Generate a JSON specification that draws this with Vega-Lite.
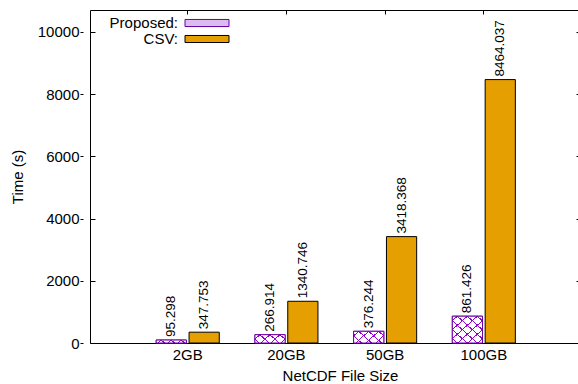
{
  "$schema": "https://vega.github.io/schema/vega-lite/v6.json",
  "width": 500,
  "height": 333,
  "autosize": "none",
  "padding": {"left": 90, "top": 10, "right": 0, "bottom": 41},
  "background": "white",
  "config": {
    "font": "Liberation Sans",
    "view": {"stroke": "#000000", "strokeWidth": 1},
    "axis": {"grid": false, "domain": false, "labelColor": "#000000", "titleColor": "#000000", "tickColor": "#000000", "labelFontSize": 15, "titleFontSize": 15, "titleFontWeight": "normal"}
  },
  "data": {
    "values": [
      {"size": "2GB", "method": "Proposed", "time": 95.298},
      {"size": "2GB", "method": "CSV", "time": 347.753},
      {"size": "20GB", "method": "Proposed", "time": 266.914},
      {"size": "20GB", "method": "CSV", "time": 1340.746},
      {"size": "50GB", "method": "Proposed", "time": 376.244},
      {"size": "50GB", "method": "CSV", "time": 3418.368},
      {"size": "100GB", "method": "Proposed", "time": 861.426},
      {"size": "100GB", "method": "CSV", "time": 8464.037}
    ]
  },
  "encoding": {
    "x": {
      "field": "size", "type": "nominal",
      "sort": ["2GB", "20GB", "50GB", "100GB"],
      "scale": {"paddingInner": 0, "paddingOuter": 0.533, "align": 0.46},
      "axis": null
    },
    "xOffset": {
      "field": "method", "type": "nominal",
      "sort": ["Proposed", "CSV"],
      "scale": {"paddingInner": 0.08, "paddingOuter": 0.543}
    },
    "y": {
      "field": "time", "type": "quantitative",
      "scale": {"domain": [0, 10700], "nice": false},
      "axis": null
    }
  },
  "layer": [
    {
      "mark": {"type": "bar", "strokeWidth": 1},
      "encoding": {
        "x": {
          "field": "size", "type": "nominal",
          "sort": ["2GB", "20GB", "50GB", "100GB"],
          "axis": {"orient": "bottom", "ticks": false, "labelAngle": 0, "labelPadding": 4, "title": "NetCDF File Size", "titlePadding": 6}
        },
        "y": {
          "field": "time", "type": "quantitative",
          "axis": {"orient": "left", "offset": 7, "values": [0, 2000, 4000, 6000, 8000, 10000], "format": "d", "tickSize": 3, "labelPadding": 1, "title": "Time (s)", "titlePadding": 12}
        },
        "fill": {
          "field": "method", "type": "nominal",
          "scale": {"domain": ["Proposed", "CSV"], "range": ["#dcbcef", "#e69f00"]},
          "legend": {
            "orient": "none", "legendX": 109, "legendY": 5,
            "title": null, "padding": 0,
            "symbolType": "M-3,-0.48H3V0.48H-3Z", "symbolSize": 215, "symbolStrokeWidth": 1,
            "labelAlign": "right", "labelOffset": -37, "labelFontSize": 15, "labelColor": "#000000",
            "rowPadding": 0,
            "labelExpr": "datum.label + ':'"
          }
        },
        "stroke": {
          "field": "method", "type": "nominal",
          "scale": {"domain": ["Proposed", "CSV"], "range": ["#6a00a0", "#000000"]},
          "legend": null
        }
      }
    },
    {
      "transform": [{"filter": "datum.method === 'Proposed' && datum.size === '2GB'"}],
      "mark": {"type": "bar", "strokeWidth": 0, "fill": {
        "gradient": "linear", "x1": 0, "y1": 0, "x2": 1.096, "y2": 0.1198,
        "stops": [
          {"offset": 0, "color": "#ffffff"},
          {"offset": 0.130, "color": "#ffffff"}, {"offset": 0.130, "color": "#9400d3"}, {"offset": 0.169, "color": "#9400d3"}, {"offset": 0.169, "color": "#ffffff"},
          {"offset": 0.428, "color": "#ffffff"}, {"offset": 0.428, "color": "#9400d3"}, {"offset": 0.467, "color": "#9400d3"}, {"offset": 0.467, "color": "#ffffff"},
          {"offset": 0.727, "color": "#ffffff"}, {"offset": 0.727, "color": "#9400d3"}, {"offset": 0.766, "color": "#9400d3"}, {"offset": 0.766, "color": "#ffffff"},
          {"offset": 1, "color": "#ffffff"}
        ]
      }}
    },
    {
      "transform": [{"filter": "datum.method === 'Proposed' && datum.size === '20GB'"}],
      "mark": {"type": "bar", "strokeWidth": 0, "fill": {
        "gradient": "linear", "x1": 0, "y1": 0, "x2": 1.194, "y2": 0.365,
        "stops": [
          {"offset": 0, "color": "#ffffff"},
          {"offset": 0.110, "color": "#ffffff"}, {"offset": 0.110, "color": "#9400d3"}, {"offset": 0.143, "color": "#9400d3"}, {"offset": 0.143, "color": "#ffffff"},
          {"offset": 0.364, "color": "#ffffff"}, {"offset": 0.364, "color": "#9400d3"}, {"offset": 0.397, "color": "#9400d3"}, {"offset": 0.397, "color": "#ffffff"},
          {"offset": 0.618, "color": "#ffffff"}, {"offset": 0.618, "color": "#9400d3"}, {"offset": 0.651, "color": "#9400d3"}, {"offset": 0.651, "color": "#ffffff"},
          {"offset": 0.871, "color": "#ffffff"}, {"offset": 0.871, "color": "#9400d3"}, {"offset": 0.904, "color": "#9400d3"}, {"offset": 0.904, "color": "#ffffff"},
          {"offset": 1, "color": "#ffffff"}
        ]
      }}
    },
    {
      "transform": [{"filter": "datum.method === 'Proposed' && datum.size === '50GB'"}],
      "mark": {"type": "bar", "strokeWidth": 0, "fill": {
        "gradient": "linear", "x1": 0, "y1": 0, "x2": 1.207, "y2": 0.520,
        "stops": [
          {"offset": 0, "color": "#ffffff"},
          {"offset": 0.101, "color": "#ffffff"}, {"offset": 0.101, "color": "#9400d3"}, {"offset": 0.131, "color": "#9400d3"}, {"offset": 0.131, "color": "#ffffff"},
          {"offset": 0.332, "color": "#ffffff"}, {"offset": 0.332, "color": "#9400d3"}, {"offset": 0.362, "color": "#9400d3"}, {"offset": 0.362, "color": "#ffffff"},
          {"offset": 0.564, "color": "#ffffff"}, {"offset": 0.564, "color": "#9400d3"}, {"offset": 0.594, "color": "#9400d3"}, {"offset": 0.594, "color": "#ffffff"},
          {"offset": 0.795, "color": "#ffffff"}, {"offset": 0.795, "color": "#9400d3"}, {"offset": 0.825, "color": "#9400d3"}, {"offset": 0.825, "color": "#ffffff"},
          {"offset": 1, "color": "#ffffff"}
        ]
      }}
    },
    {
      "transform": [{"filter": "datum.method === 'Proposed' && datum.size === '100GB'"}],
      "mark": {"type": "bar", "strokeWidth": 0, "fill": {
        "gradient": "linear", "x1": 0, "y1": 0, "x2": 1.007, "y2": 0.993,
        "stops": [
          {"offset": 0, "color": "#ffffff"},
          {"offset": 0.073, "color": "#ffffff"}, {"offset": 0.073, "color": "#9400d3"}, {"offset": 0.094, "color": "#9400d3"}, {"offset": 0.094, "color": "#ffffff"},
          {"offset": 0.239, "color": "#ffffff"}, {"offset": 0.239, "color": "#9400d3"}, {"offset": 0.261, "color": "#9400d3"}, {"offset": 0.261, "color": "#ffffff"},
          {"offset": 0.406, "color": "#ffffff"}, {"offset": 0.406, "color": "#9400d3"}, {"offset": 0.428, "color": "#9400d3"}, {"offset": 0.428, "color": "#ffffff"},
          {"offset": 0.573, "color": "#ffffff"}, {"offset": 0.573, "color": "#9400d3"}, {"offset": 0.594, "color": "#9400d3"}, {"offset": 0.594, "color": "#ffffff"},
          {"offset": 0.739, "color": "#ffffff"}, {"offset": 0.739, "color": "#9400d3"}, {"offset": 0.761, "color": "#9400d3"}, {"offset": 0.761, "color": "#ffffff"},
          {"offset": 0.906, "color": "#ffffff"}, {"offset": 0.906, "color": "#9400d3"}, {"offset": 0.928, "color": "#9400d3"}, {"offset": 0.928, "color": "#ffffff"},
          {"offset": 1, "color": "#ffffff"}
        ]
      }}
    },
    {
      "transform": [{"filter": "datum.method === 'Proposed' && datum.size === '2GB'"}],
      "mark": {"type": "bar", "strokeWidth": 0, "fill": {
        "gradient": "linear", "x1": 0, "y1": 1, "x2": 1.096, "y2": 0.8802,
        "stops": [
          {"offset": 0, "color": "rgba(148,0,211,0)"},
          {"offset": 0.228, "color": "rgba(148,0,211,0)"}, {"offset": 0.228, "color": "#9400d3"}, {"offset": 0.267, "color": "#9400d3"}, {"offset": 0.267, "color": "rgba(148,0,211,0)"},
          {"offset": 0.527, "color": "rgba(148,0,211,0)"}, {"offset": 0.527, "color": "#9400d3"}, {"offset": 0.566, "color": "#9400d3"}, {"offset": 0.566, "color": "rgba(148,0,211,0)"},
          {"offset": 0.825, "color": "rgba(148,0,211,0)"}, {"offset": 0.825, "color": "#9400d3"}, {"offset": 0.864, "color": "#9400d3"}, {"offset": 0.864, "color": "rgba(148,0,211,0)"},
          {"offset": 1, "color": "rgba(148,0,211,0)"}
        ]
      }}
    },
    {
      "transform": [{"filter": "datum.method === 'Proposed' && datum.size === '20GB'"}],
      "mark": {"type": "bar", "strokeWidth": 0, "fill": {
        "gradient": "linear", "x1": 0, "y1": 1, "x2": 1.194, "y2": 0.635,
        "stops": [
          {"offset": 0, "color": "rgba(148,0,211,0)"},
          {"offset": 0.091, "color": "rgba(148,0,211,0)"}, {"offset": 0.091, "color": "#9400d3"}, {"offset": 0.124, "color": "#9400d3"}, {"offset": 0.124, "color": "rgba(148,0,211,0)"},
          {"offset": 0.344, "color": "rgba(148,0,211,0)"}, {"offset": 0.344, "color": "#9400d3"}, {"offset": 0.377, "color": "#9400d3"}, {"offset": 0.377, "color": "rgba(148,0,211,0)"},
          {"offset": 0.598, "color": "rgba(148,0,211,0)"}, {"offset": 0.598, "color": "#9400d3"}, {"offset": 0.631, "color": "#9400d3"}, {"offset": 0.631, "color": "rgba(148,0,211,0)"},
          {"offset": 0.852, "color": "rgba(148,0,211,0)"}, {"offset": 0.852, "color": "#9400d3"}, {"offset": 0.885, "color": "#9400d3"}, {"offset": 0.885, "color": "rgba(148,0,211,0)"},
          {"offset": 1, "color": "rgba(148,0,211,0)"}
        ]
      }}
    },
    {
      "transform": [{"filter": "datum.method === 'Proposed' && datum.size === '50GB'"}],
      "mark": {"type": "bar", "strokeWidth": 0, "fill": {
        "gradient": "linear", "x1": 0, "y1": 1, "x2": 1.207, "y2": 0.480,
        "stops": [
          {"offset": 0, "color": "rgba(148,0,211,0)"},
          {"offset": 0.170, "color": "rgba(148,0,211,0)"}, {"offset": 0.170, "color": "#9400d3"}, {"offset": 0.200, "color": "#9400d3"}, {"offset": 0.200, "color": "rgba(148,0,211,0)"},
          {"offset": 0.402, "color": "rgba(148,0,211,0)"}, {"offset": 0.402, "color": "#9400d3"}, {"offset": 0.432, "color": "#9400d3"}, {"offset": 0.432, "color": "rgba(148,0,211,0)"},
          {"offset": 0.633, "color": "rgba(148,0,211,0)"}, {"offset": 0.633, "color": "#9400d3"}, {"offset": 0.663, "color": "#9400d3"}, {"offset": 0.663, "color": "rgba(148,0,211,0)"},
          {"offset": 0.865, "color": "rgba(148,0,211,0)"}, {"offset": 0.865, "color": "#9400d3"}, {"offset": 0.895, "color": "#9400d3"}, {"offset": 0.895, "color": "rgba(148,0,211,0)"},
          {"offset": 1, "color": "rgba(148,0,211,0)"}
        ]
      }}
    },
    {
      "transform": [{"filter": "datum.method === 'Proposed' && datum.size === '100GB'"}],
      "mark": {"type": "bar", "strokeWidth": 0, "fill": {
        "gradient": "linear", "x1": 0, "y1": 1, "x2": 1.007, "y2": 0.007,
        "stops": [
          {"offset": 0, "color": "rgba(148,0,211,0)"},
          {"offset": 0.069, "color": "rgba(148,0,211,0)"}, {"offset": 0.069, "color": "#9400d3"}, {"offset": 0.091, "color": "#9400d3"}, {"offset": 0.091, "color": "rgba(148,0,211,0)"},
          {"offset": 0.236, "color": "rgba(148,0,211,0)"}, {"offset": 0.236, "color": "#9400d3"}, {"offset": 0.257, "color": "#9400d3"}, {"offset": 0.257, "color": "rgba(148,0,211,0)"},
          {"offset": 0.402, "color": "rgba(148,0,211,0)"}, {"offset": 0.402, "color": "#9400d3"}, {"offset": 0.424, "color": "#9400d3"}, {"offset": 0.424, "color": "rgba(148,0,211,0)"},
          {"offset": 0.569, "color": "rgba(148,0,211,0)"}, {"offset": 0.569, "color": "#9400d3"}, {"offset": 0.591, "color": "#9400d3"}, {"offset": 0.591, "color": "rgba(148,0,211,0)"},
          {"offset": 0.736, "color": "rgba(148,0,211,0)"}, {"offset": 0.736, "color": "#9400d3"}, {"offset": 0.757, "color": "#9400d3"}, {"offset": 0.757, "color": "rgba(148,0,211,0)"},
          {"offset": 0.902, "color": "rgba(148,0,211,0)"}, {"offset": 0.902, "color": "#9400d3"}, {"offset": 0.924, "color": "#9400d3"}, {"offset": 0.924, "color": "rgba(148,0,211,0)"},
          {"offset": 1, "color": "rgba(148,0,211,0)"}
        ]
      }}
    },
    {
      "transform": [{"filter": "datum.method === 'Proposed'"}],
      "mark": {"type": "bar", "fillOpacity": 0, "stroke": "#6a00a0", "strokeWidth": 1}
    },
    {
      "mark": {"type": "text", "angle": 270, "align": "left", "baseline": "middle", "dx": 3, "fontSize": 13.5, "color": "#000000"},
      "encoding": {
        "text": {"field": "time", "type": "quantitative", "format": ".3f"}
      }
    },
    {
      "mark": {"type": "tick", "opacity": 0},
      "encoding": {
        "x": {
          "field": "size", "type": "nominal", "sort": ["2GB", "20GB", "50GB", "100GB"],
          "axis": {"orient": "top", "labels": false, "domain": false, "tickSize": -4, "title": null}
        },
        "y": {
          "field": "time", "type": "quantitative",
          "axis": {"orient": "left", "values": [0, 2000, 4000, 6000, 8000, 10000], "labels": false, "domain": false, "tickSize": -5, "title": null}
        }
      }
    },
    {
      "mark": {"type": "tick", "opacity": 0},
      "encoding": {
        "y": {
          "field": "time", "type": "quantitative",
          "axis": {"orient": "right", "offset": -14, "values": [0, 2000, 4000, 6000, 8000, 10000], "labels": false, "domain": false, "tickSize": 2, "title": null}
        }
      }
    }
  ],
  "resolve": {"axis": {"x": "independent", "y": "independent"}}
}
